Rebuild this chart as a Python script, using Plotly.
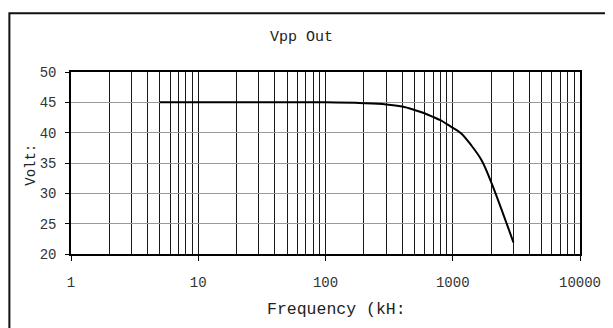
import plotly.graph_objects as go

# Data
freq_khz = [5, 10, 20, 50, 100, 200, 300, 400, 500, 600, 700, 800, 900, 1000, 1160, 1400, 1680, 2000, 3000]
vpp_out = [45, 45, 45, 45, 45, 44.85, 44.65, 44.3, 43.75, 43.2, 42.6, 42.05, 41.4, 40.8, 39.9, 37.9, 35.5, 31.9, 21.9]

x_tickvals = [1, 10, 100, 1000, 10000]
x_ticktext = ["1", "10", "100", "1000", "10000"]
y_tickvals = [20, 25, 30, 35, 40, 45, 50]

title_text = "Vpp Out"
x_title = "Frequency (kH:"
y_title = "Volt:"

FONT = "Liberation Mono, Courier New, monospace"
OFF = 8  # page body margin offset
W, H = 613 - OFF, 328 - OFF
L, R, T, B = 70.7 - OFF, 584.5 - OFF, 71.5 - OFF, 254.3 - OFF

def px_x(p):
    return (p - OFF - L) / (R - L)

def px_y(p):
    return (B - (p - OFF)) / (B - T)

fig = go.Figure()
fig.add_trace(go.Scatter(
    x=freq_khz, y=vpp_out, mode="lines",
    line=dict(color="#000000", width=2, shape="spline", smoothing=1.0),
    showlegend=False, hoverinfo="skip",
))

fig.update_layout(
    width=W, height=H,
    margin=dict(l=L, r=W - R, t=T, b=H - B, pad=0),
    paper_bgcolor="#ffffff", plot_bgcolor="#ffffff",
    font=dict(family=FONT, size=14, color="#222222"),
    showlegend=False,
)

fig.update_xaxes(
    type="log", range=[0, 4],
    tickmode="array", tickvals=x_tickvals, ticktext=x_ticktext,
    ticks="outside", ticklen=5, tickwidth=1, tickcolor="#000000",
    ticklabelstandoff=9,
    showgrid=True, gridcolor="#1a1a1a", gridwidth=1.2,
    minor=dict(dtick="D1", showgrid=True, gridcolor="#1a1a1a", gridwidth=1.2, ticks=""),
    showline=True, linecolor="#000000", linewidth=1.5, mirror=True,
    zeroline=False,
    tickfont=dict(family=FONT, size=14, color="#333333"),
)
fig.update_yaxes(
    range=[20, 50],
    tickmode="array", tickvals=y_tickvals,
    ticks="outside", ticklen=4, tickwidth=1, tickcolor="#000000",
    ticklabelstandoff=6,
    showgrid=True, gridcolor="#999999", gridwidth=1,
    showline=True, linecolor="#000000", linewidth=1.5, mirror=True,
    zeroline=False,
    tickfont=dict(family=FONT, size=14, color="#333333"),
)

annotations = [
    dict(text=title_text, x=px_x(303), y=px_y(37), xref="paper", yref="paper",
         showarrow=False, xanchor="center", yanchor="middle",
         font=dict(family=FONT, size=15, color="#222222")),
    dict(text=x_title, x=px_x(267), y=px_y(310), xref="paper", yref="paper",
         showarrow=False, xanchor="left", yanchor="middle",
         font=dict(family=FONT, size=16.5, color="#222222")),
    dict(text=y_title, x=px_x(30), y=px_y(165), xref="paper", yref="paper",
         showarrow=False, xanchor="center", yanchor="middle", textangle=-90,
         font=dict(family=FONT, size=14, color="#222222")),
]
fig.update_layout(annotations=annotations)

# outer chart border (extends past the right and bottom edges as in the reference)
fig.add_shape(type="rect", xref="paper", yref="paper",
              x0=px_x(8.5), x1=px_x(625), y0=px_y(340), y1=px_y(12.5),
              line=dict(color="#111111", width=2), fillcolor="rgba(0,0,0,0)", layer="above")

fig.write_html("out.html")
